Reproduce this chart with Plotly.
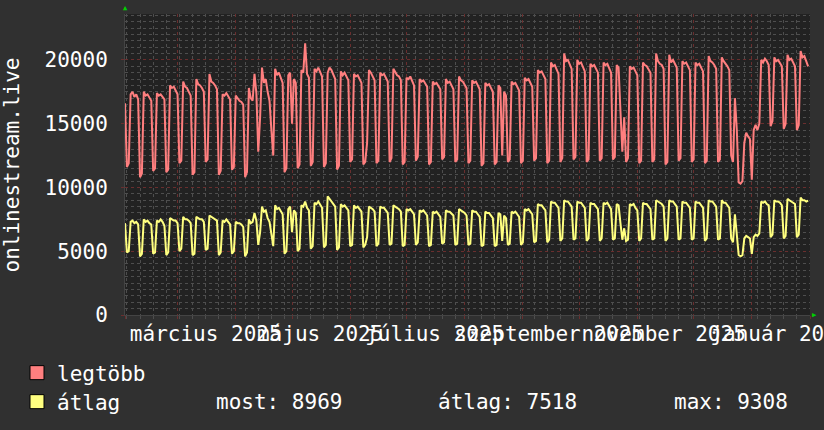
import plotly.graph_objects as go
import pandas as pd

START = "2025-02-01"
END = "2026-02-01"

# daily values, first day then weekly blocks [low, low, high, high, high, high, high]
legtobb_first = [16600]
legtobb_weeks = [
    [11600, 11900, 17300, 17500, 17100, 17300, 16900],
    [10800, 11100, 17500, 17200, 17300, 17000, 16800],
    [11300, 11500, 17400, 17200, 17300, 17100, 16900],
    [11200, 11400, 18000, 17800, 17900, 17600, 17300],
    [11900, 12100, 18300, 17900, 17800, 17500, 17200],
    [11000, 11200, 18500, 18100, 18000, 17800, 17500],
    [12000, 12200, 18900, 18300, 18200, 18000, 17700],
    [11000, 11300, 17300, 17200, 17400, 17100, 16900],
    [11400, 11600, 17200, 17000, 16800, 16700, 16500],
    [10800, 11200, 17800, 17000, 16800, 18900, 17400],
    [12800, 15500, 19400, 18200, 18500, 17500, 16800],
    [14500, 12500, 19300, 18800, 19000, 18500, 18200],
    [11200, 11500, 18800, 19000, 15000, 18500, 18200],
    [11500, 11800, 19200, 19000, 21300, 18900, 18600],
    [11700, 12000, 19300, 19100, 19400, 19000, 18700],
    [11600, 11900, 19000, 19400, 19200, 18900, 18500],
    [11400, 11700, 19100, 18800, 19000, 18700, 18400],
    [12000, 12200, 18900, 18700, 18800, 18500, 18200],
    [11800, 12000, 13500, 19200, 19000, 18700, 18400],
    [11900, 12100, 19000, 18800, 18900, 18600, 18300],
    [12000, 12300, 19300, 19000, 18800, 18700, 18400],
    [11800, 12000, 18600, 18500, 18700, 18400, 18000],
    [12100, 12400, 18500, 18300, 18400, 18200, 17900],
    [11800, 12000, 18300, 18100, 18200, 17900, 17700],
    [12200, 12400, 18500, 18200, 18300, 18000, 17700],
    [12000, 12200, 18700, 18400, 18300, 18100, 17800],
    [11900, 12100, 18400, 18200, 18300, 18000, 17700],
    [11700, 11900, 18200, 18000, 18100, 17800, 17500],
    [11800, 12000, 18000, 17800, 12500, 17500, 17200],
    [12000, 12200, 18300, 18100, 18200, 17900, 17600],
    [11900, 12100, 18600, 18400, 18500, 18200, 17900],
    [12100, 12300, 19200, 19000, 19100, 18800, 18500],
    [11900, 12100, 19800, 19500, 19600, 19200, 18900],
    [12000, 12300, 20500, 19900, 20000, 19600, 19300],
    [12200, 12400, 20000, 19700, 19800, 19400, 19100],
    [12000, 12200, 19700, 19500, 19600, 19300, 19000],
    [12100, 12300, 19800, 19600, 19700, 19300, 19000],
    [12200, 12400, 19600, 19400, 16000, 12800, 15500],
    [12000, 12300, 19500, 19300, 19400, 19100, 18800],
    [11900, 12100, 19800, 19600, 19500, 19300, 19000],
    [12000, 12200, 20500, 19900, 19700, 19600, 19300],
    [11800, 12000, 20400, 19800, 20000, 19700, 19400],
    [12100, 12300, 19900, 19700, 19800, 19500, 19200],
    [12000, 12200, 19800, 19600, 19700, 19400, 19100],
    [11900, 12100, 20300, 19900, 19800, 19600, 19300],
    [12000, 12200, 20200, 19900, 19700, 19500, 19200],
    [12500, 12000, 17000, 14500, 10400, 10300, 10500],
    [13500, 14300, 14000, 13800, 10600, 14500, 14900],
    [14500, 15000, 20000, 19800, 20100, 19900, 19600],
    [14800, 15200, 20200, 19900, 20000, 19800, 19500],
    [14600, 15000, 20400, 20000, 20100, 19800, 19500],
    [14500, 14900, 20700, 20200, 20300, 19900, 19500],
]

atlag_first = [7200]
atlag_weeks = [
    [4900, 5000, 7300, 7400, 7200, 7300, 7100],
    [4600, 4800, 7500, 7300, 7400, 7200, 7100],
    [4800, 4900, 7400, 7300, 7500, 7300, 7000],
    [4700, 4900, 7600, 7500, 7400, 7400, 7200],
    [5000, 5200, 7700, 7500, 7500, 7400, 7200],
    [4700, 4800, 7700, 7600, 7500, 7500, 7300],
    [5100, 5200, 7800, 7700, 7600, 7500, 7400],
    [4700, 4900, 7400, 7300, 7500, 7300, 7100],
    [4800, 5000, 7300, 7200, 7200, 7100, 6900],
    [4600, 4900, 7500, 7200, 7300, 8000, 7400],
    [5500, 6500, 8500, 8100, 8200, 7600, 7300],
    [6300, 5400, 8600, 8300, 8400, 8100, 7900],
    [4800, 5000, 8300, 8500, 6500, 8200, 8000],
    [5000, 5200, 8600, 8500, 8900, 8400, 8200],
    [5200, 5400, 8800, 8700, 8900, 8600, 8400],
    [5300, 5500, 9308, 9100, 8900, 8700, 8500],
    [5100, 5300, 8700, 8500, 8600, 8400, 8200],
    [5400, 5500, 8600, 8400, 8500, 8300, 8100],
    [5300, 5500, 6100, 8500, 8400, 8300, 8100],
    [5400, 5600, 8500, 8400, 8400, 8200, 8000],
    [5500, 5600, 8600, 8500, 8400, 8300, 8100],
    [5400, 5500, 8300, 8200, 8300, 8100, 7900],
    [5500, 5700, 8200, 8100, 8200, 8000, 7800],
    [5400, 5500, 8100, 8000, 8100, 7900, 7700],
    [5600, 5700, 8200, 8100, 8100, 7900, 7800],
    [5500, 5600, 8300, 8200, 8100, 8000, 7800],
    [5500, 5600, 8200, 8100, 8100, 7900, 7700],
    [5400, 5500, 8100, 8000, 8000, 7800, 7600],
    [5400, 5500, 8000, 7900, 5800, 7800, 7600],
    [5500, 5600, 8100, 8000, 8100, 7900, 7700],
    [5500, 5700, 8300, 8200, 8300, 8100, 7900],
    [5700, 5800, 8700, 8600, 8600, 8400, 8200],
    [5700, 5900, 8900, 8800, 8800, 8600, 8400],
    [5800, 6000, 9000, 8900, 8900, 8700, 8500],
    [5900, 6000, 8900, 8800, 8800, 8600, 8400],
    [5800, 6000, 8800, 8700, 8700, 8500, 8300],
    [5800, 6000, 8800, 8700, 8800, 8500, 8300],
    [5900, 6000, 8700, 8600, 7200, 5900, 6800],
    [5800, 5900, 8700, 8600, 8700, 8400, 8200],
    [5800, 6000, 8800, 8700, 8700, 8500, 8300],
    [5900, 6000, 9000, 8900, 8800, 8700, 8500],
    [5800, 6000, 9000, 8900, 8900, 8700, 8500],
    [5900, 6000, 8900, 8800, 8800, 8600, 8400],
    [5900, 6000, 8900, 8800, 8800, 8600, 8400],
    [5800, 6000, 9000, 8900, 8900, 8700, 8500],
    [5900, 6000, 9000, 8800, 8800, 8600, 8400],
    [6000, 5700, 7900, 6500, 4700, 4600, 4700],
    [6000, 6200, 6100, 6000, 4800, 6100, 6300],
    [6200, 6400, 8900, 8800, 8900, 8700, 8600],
    [6100, 6300, 9000, 8900, 8900, 8800, 8600],
    [6000, 6200, 9100, 9000, 8900, 8800, 8700],
    [6100, 6300, 9200, 9000, 9000, 8900, 8969],
]

legtobb = legtobb_first + [v for w in legtobb_weeks for v in w]
atlag = atlag_first + [v for w in atlag_weeks for v in w]
dates = pd.date_range(START, periods=len(legtobb), freq="D")

series_names = ["legtöbb", "átlag"]
series_colors = ["#ff7f7f", "#ffff80"]

label_dates = ["2025-03-16", "2025-05-16", "2025-07-16", "2025-09-15", "2025-11-15", "2026-01-16"]
label_texts = ["március 2025", "május 2025", "július 2025", "szeptember 2025", "november 2025", "január 2026"]

y_ticks = [0, 5000, 10000, 15000, 20000]
y_max = 23600
y_title = "onlinestream.live"

stat_labels = ["most: 8969", "átlag: 7518", "max: 9308"]

FONT = "DejaVu Sans Mono"
BG = "#303030"
PLOT_BG = "#222222"
MINOR = "#4e4e4e"
MAJOR = "#6a2e2e"

fig = go.Figure()
fig.add_trace(go.Scatter(x=dates, y=legtobb, mode="lines", name=series_names[0],
                         line=dict(color=series_colors[0], width=2), showlegend=False))
fig.add_trace(go.Scatter(x=dates, y=atlag, mode="lines", name=series_names[1],
                         line=dict(color=series_colors[1], width=2), showlegend=False))
# invisible trace for overlay axis with monthly grid
fig.add_trace(go.Scatter(x=[dates[0], dates[-1]], y=[0, 0], xaxis="x2", mode="lines",
                         line=dict(width=0), opacity=0, hoverinfo="skip", showlegend=False))
# legend swatches (one legend per row)
for i, (n, c) in enumerate(zip(series_names, series_colors)):
    fig.add_trace(go.Scatter(x=[None], y=[None], mode="markers", name=n,
                             legend="legend" if i == 0 else "legend2",
                             marker=dict(symbol="square", size=14, color=c,
                                         line=dict(color="black", width=1))))

legend_common = dict(xref="container", yref="container", xanchor="left", yanchor="middle",
                     font=dict(family=FONT, size=21, color="white"),
                     bgcolor="rgba(0,0,0,0)", itemwidth=30)

fig.update_layout(
    width=824, height=430, autosize=False,
    margin=dict(l=125, r=14, t=14, b=115, autoexpand=False),
    paper_bgcolor=BG, plot_bgcolor=PLOT_BG,
    font=dict(family=FONT, size=21, color="white"),
    xaxis=dict(
        type="date", range=[START, END], automargin=False,
        tickmode="array", tickvals=label_dates, ticktext=label_texts, tickangle=0,
        ticklabeloverflow="allow",
        tickfont=dict(family=FONT, size=21, color="white"),
        showgrid=False, zeroline=False, ticks="",
        showline=True, linecolor="#444444", linewidth=1,
        minor=dict(dtick=7 * 86400000, tick0="2025-02-02", showgrid=True,
                   gridcolor=MINOR, griddash="dot", gridwidth=1,
                   ticks="outside", ticklen=3, tickcolor=MINOR),
    ),
    xaxis2=dict(
        type="date", range=[START, END], overlaying="x", anchor="y", side="bottom",
        tickmode="linear", tick0="2025-01-01", dtick="M1", automargin=False,
        showticklabels=False, showgrid=True, gridcolor=MAJOR, griddash="dot",
        gridwidth=1, ticks="outside", ticklen=3, tickcolor=MAJOR, zeroline=False,
    ),
    yaxis=dict(
        range=[0, y_max], tickmode="array", tickvals=y_ticks, automargin=False,
        ticktext=[str(v) for v in y_ticks],
        tickfont=dict(family=FONT, size=21, color="white"),
        showgrid=True, gridcolor=MAJOR, griddash="dot", gridwidth=1,
        zeroline=False, ticks="outside", ticklen=3, tickcolor=MAJOR,
        ticklabelstandoff=9,
        showline=True, linecolor="#444444", linewidth=1,
        minor=dict(dtick=500, showgrid=True, gridcolor=MINOR, griddash="dot", gridwidth=1),
    ),
    legend=dict(x=17 / 824, y=1 - 373 / 430, **legend_common),
    legend2=dict(x=17 / 824, y=1 - 402 / 430, **legend_common),
    showlegend=True,
)

# y-axis title
fig.add_annotation(x=-0.165, y=0.5, xref="paper", yref="paper", text=y_title,
                   textangle=-90, showarrow=False, xanchor="center", yanchor="middle",
                   font=dict(family=FONT, size=21, color="white"))

stat_x = [0.1292, 0.4537, 0.7985]
for sx, txt in zip(stat_x, stat_labels):
    fig.add_annotation(x=sx, y=-0.289, xref="paper", yref="paper", text=txt,
                       showarrow=False, xanchor="left", yanchor="middle",
                       font=dict(family=FONT, size=21, color="white"))

# green axis arrows
fig.add_annotation(x=0, y=1, xref="paper", yref="paper", text="▲", showarrow=False,
                   xanchor="center", yanchor="bottom", font=dict(size=7, color="#00d000"))
fig.add_annotation(x=1, y=0, xref="paper", yref="paper", text="▶", showarrow=False,
                   xanchor="left", yanchor="middle", font=dict(size=7, color="#00d000"))

fig.write_html("out.html", config={"displayModeBar": False},
               post_script="document.body.style.margin='0';")
